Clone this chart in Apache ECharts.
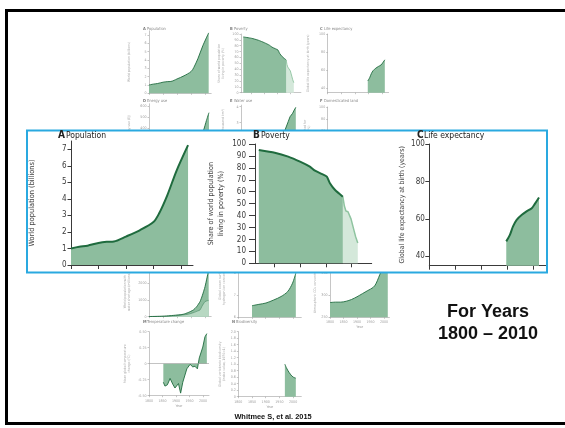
<!DOCTYPE html>
<html><head><meta charset="utf-8">
<script src="https://cdn.jsdelivr.net/npm/echarts@6/dist/echarts.min.js"></script>
<style>html,body{margin:0;padding:0;background:#fff}#c{width:565px;height:428px}</style>
</head><body><div id="c"></div>
<script>
// ---------------- data ----------------
const populationData = [[1800,1.0],[1815,1.1],[1830,1.17],[1850,1.33],[1865,1.4],[1878,1.42],[1900,1.72],[1925,2.1],[1950,2.6],[1960,3.1],[1975,4.2],[1992,5.7],[2013,7.25]];
const povertyHistData = [[1820,95],[1851,92.7],[1877,89.4],[1900,85.2],[1919,81],[1929,77.6],[1942,74.9],[1952,72.6],[1958,67.1],[1968,61.4],[1983,55.8]];
const povertyRecentData = [[1983,55.8],[1986,48],[1989,43.8],[1993,43.2],[1996,42.5],[1999,37],[2002,32],[2005,27],[2008,22],[2012,17]];
const lifeExpData = [[1948,48],[1955,51.5],[1961,56],[1968,59.5],[1978,62.2],[1987,64],[1997,65.7],[2003,68],[2011,71.4]];
const energyData = [[1800,20],[1850,25],[1900,45],[1950,100],[1970,230],[1995,384],[2005,470],[2014,540]];
const waterData = [[1900,0.6],[1950,1.4],[1967,2.54],[1979,3.06],[1986,3.37],[1996,3.59],[2002,3.79],[2008,3.96]];
const landData = [[1800,12],[1850,15],[1900,20],[1950,28],[2000,37],[2010,38]];
const waterShortageTotal = [[1800,10],[1850,30],[1875,60],[1900,100],[1922,144],[1940,250],[1958,400],[1970,600],[1982,900],[1990,1250],[2000,1800],[2013,2800]];
const waterShortageLower = [[1800,5],[1850,20],[1900,60],[1940,150],[1960,250],[1975,350],[1982,400],[1990,650],[2000,900],[2013,980]];
const oceanHData = [[1850,6.52],[1875,6.58],[1901,6.64],[1930,6.78],[1956,6.93],[1980,7.15],[1998,7.53],[2010,7.98]];
const co2Data = [[1800,283],[1820,284],[1840,284],[1860,286],[1880,290],[1900,296],[1920,303],[1940,310],[1960,317],[1970,325],[1980,339],[1990,354],[2000,369],[2010,389],[2014,398]];
const tempData = [[1853,-0.29],[1859,-0.35],[1868,-0.33],[1878,-0.23],[1888,-0.32],[1896,-0.38],[1909,-0.31],[1917,-0.46],[1925,-0.29],[1940,-0.08],[1952,-0.01],[1962,-0.05],[1970,-0.04],[1979,-0.08],[1986,0.09],[1999,0.26],[2007,0.42],[2014,0.47]];
const biodiversityData = [[1970,1.0],[1975,0.9],[1980,0.82],[1992,0.67],[2001,0.6],[2010,0.57]];

const yearTicks = [1800,1850,1900,1950,2000];
const popTicks = [0,1,2,3,4,5,6,7];
const povTicks = [0,10,20,30,40,50,60,70,80,90,100];
const lifeTicks = [40,60,80,100];
const energyTicks = [0,100,200,300,400,500,600];
const waterTicks = [0,1,2,3,4];
const landTicks = [0,20,40,60,80,100];
const shortageTicks = [0,1000,2000,3000];
const oceanTicks = [6,7,8,9];
const co2Ticks = [250,300,350,400];
const tempTicks = [-0.5,-0.25,0,0.25,0.5];
const bioTicks = [0,0.2,0.4,0.6,0.8,1.0,1.2,1.4,1.6,1.8,2.0];

// ---------------- styles ----------------
const NARROW = "'Liberation Sans Narrow','DejaVu Sans Condensed',sans-serif";
const DARK_LINE = '#1f6b3e', DARK_FILL = '#8dbd9e';
const LIGHT_LINE = '#8fc4a0', LIGHT_FILL = '#d4e8da';

const grid = [], xAxis = [], yAxis = [], series = [];

function panel(p) {
  const i = grid.length;
  const big = !!p.big;
  const z = big ? 10 : 0;
  const axisColor = big ? '#3a3a3a' : '#a0a0a0';
  const labelColor = big ? '#3a3a3a' : '#a0a0a0';
  const fs = big ? 8 : 3.6;
  grid.push({left: p.left, top: p.top, width: p.width, height: p.height, containLabel: false, outerBoundsMode: 'none'});
  const xt = p.xTicks || yearTicks;
  xAxis.push({
    gridIndex: i, type: 'value', min: p.xMin, max: p.xMax, z: z,
    axisLine: {show: true, onZero: false, lineStyle: {color: axisColor, width: big ? 1 : 0.6}},
    axisTick: {show: true, customValues: xt, length: big ? 4 : 1.5, lineStyle: {color: axisColor, width: big ? 1 : 0.6}},
    axisLabel: {show: !!p.xLabels, customValues: xt, fontSize: fs, color: labelColor, margin: 3, fontFamily: NARROW,
      formatter: function (v) { return String(v); }},
    splitLine: {show: false},
    name: p.xName || '', nameLocation: 'middle', nameGap: 8,
    nameTextStyle: {fontSize: fs, color: labelColor, fontFamily: NARROW}
  });
  yAxis.push({
    gridIndex: i, type: 'value', min: p.yMin, max: p.yMax, z: z,
    axisLine: {show: true, onZero: false, lineStyle: {color: axisColor, width: big ? 1 : 0.6}},
    axisTick: {show: true, customValues: p.yTicks, length: p.tickLen || (big ? 4 : 1.5), lineStyle: {color: axisColor, width: big ? 1 : 0.6}},
    axisLabel: {show: true, customValues: p.yTicks, fontSize: fs, color: labelColor, margin: p.labelMargin || (big ? 5 : 2.5), fontFamily: NARROW,
      formatter: p.yFmt || function (v) { return String(v); }},
    splitLine: {show: false},
    name: p.yName || '', nameLocation: 'middle', nameGap: p.yNameGap, nameRotate: 90,
    nameTextStyle: {fontSize: p.nameSize || (big ? 8 : 3.4), color: big ? '#444' : '#a8a8a8', fontFamily: NARROW, lineHeight: big ? 10 : 4.2}
  });
  p.series.forEach(function (s) {
    const light = s.light;
    series.push({
      type: 'line', xAxisIndex: i, yAxisIndex: i, data: s.data,
      showSymbol: false, symbol: 'none', smooth: s.smooth || 0, animation: false, silent: true,
      z: big ? 11 : 2,
      lineStyle: {color: light ? LIGHT_LINE : DARK_LINE, width: s.lw || (big ? 2 : 0.9)},
      areaStyle: {color: s.fill || (light ? LIGHT_FILL : DARK_FILL), opacity: 1, origin: s.origin || 'start'},
      markLine: s.zeroLine ? {symbol: 'none', silent: true, label: {show: false},
        lineStyle: {color: '#9a9a9a', width: 0.6, type: 'solid'}, data: [{yAxis: 0}], animation: false} : undefined
    });
  });
}

// ---------------- background (full figure, mostly covered) ----------------
panel({left: 149, top: 30.8, width: 62.2, height: 62.5, xMin: 1800, xMax: 2022, yMin: 0, yMax: 7.5, yTicks: popTicks,
  yName: 'World population (billions)', yNameGap: 18, series: [{data: populationData, smooth: 0.3}]});
panel({left: 241, top: 34, width: 59.9, height: 58.7, xMin: 1811.3, xMax: 2039, yMin: 0, yMax: 100, yTicks: povTicks, xTicks: [1850,1900,1950,2000],
  yName: 'Share of world population\nliving in poverty (%)', yNameGap: 16,
  series: [{data: povertyRecentData, light: true}, {data: povertyHistData, smooth: 0.2}]});
panel({left: 327.7, top: 34, width: 60.9, height: 58.7, xMin: 1800, xMax: 2025, yMin: 35, yMax: 100, yTicks: lifeTicks,
  yName: 'Global life expectancy at birth (years)', yNameGap: 17, series: [{data: lifeExpData, smooth: 0.3}]});
panel({left: 149, top: 103.8, width: 62.2, height: 68.9, xMin: 1800, xMax: 2022, yMin: 0, yMax: 620, yTicks: energyTicks,
  yName: 'Global primary energy use (EJ)', yNameGap: 18, series: [{data: energyData, smooth: 0.2}]});
panel({left: 241, top: 105.1, width: 60.6, height: 65.6, xMin: 1800, xMax: 2030, yMin: 0, yMax: 4.1, yTicks: waterTicks,
  yName: 'Global freshwater use (thousand km³)', yNameGap: 16, series: [{data: waterData}]});
panel({left: 327.7, top: 107, width: 60.9, height: 60, xMin: 1800, xMax: 2025, yMin: 0, yMax: 100, yTicks: landTicks,
  yName: 'Land domesticated for\nagriculture (%)', yNameGap: 16, series: [{data: landData}]});
panel({left: 149, top: 266.6, width: 62.2, height: 50.1, xMin: 1800, xMax: 2022, yMin: 0, yMax: 3000, yTicks: shortageTicks,
  yName: 'World population with\nwater shortage (millions)', yNameGap: 18,
  series: [{data: waterShortageTotal, smooth: 0.2}, {data: waterShortageLower, smooth: 0.2, fill: '#b7d8c2', lw: 0.4}]});
panel({left: 238.3, top: 250.4, width: 63, height: 66.9, xMin: 1800, xMax: 2030, yMin: 6, yMax: 9, yTicks: oceanTicks,
  yName: 'Global ocean surface\nhydrogen ion concentration', yNameGap: 12, series: [{data: oceanHData, smooth: 0.3}]});
panel({left: 330, top: 250.4, width: 59.4, height: 66.9, xMin: 1800, xMax: 2020, yMin: 250, yMax: 400, yTicks: co2Ticks,
  xLabels: true, xName: 'Year',
  yName: 'Atmospheric CO₂ concentration (ppm)', yNameGap: 13, series: [{data: co2Data, smooth: 0.3}]});
panel({left: 149, top: 331.7, width: 60, height: 64, xMin: 1800, xMax: 2022, yMin: -0.5, yMax: 0.5, yTicks: tempTicks,
  yFmt: function (v) { return v === 0 ? '0' : (v < 0 ? '–' : '') + Math.abs(v).toFixed(2); },
  xLabels: true, xName: 'Year',
  yName: 'Mean global temperature\nchange (°C)', yNameGap: 18,
  series: [{data: tempData, origin: 'auto', zeroLine: true}]});
panel({left: 238.3, top: 331.7, width: 63, height: 65, xMin: 1800, xMax: 2030, yMin: 0, yMax: 2, yTicks: bioTicks,
  yFmt: function (v) { return v === 0 ? '0' : v.toFixed(1); },
  xLabels: true, xName: 'Year',
  yName: 'Global vertebrate biodiversity\n(index value, 1970=1)', yNameGap: 12,
  series: [{data: biodiversityData, smooth: 0.3}]});

// ---------------- highlighted panels A, B, C ----------------
panel({big: true, left: 71, top: 141, width: 122, height: 124, xMin: 1800, xMax: 2022, yMin: 0, yMax: 7.5, yTicks: popTicks,
  tickLen: 3.5, labelMargin: 4.5, nameSize: 7.4,
  yName: 'World population (billions)', yNameGap: 33.5, series: [{data: populationData, smooth: 0.3}]});
panel({big: true, left: 255, top: 144, width: 116.7, height: 119.3, xMin: 1812.6, xMax: 2039, yMin: 0, yMax: 100, yTicks: povTicks,
  xTicks: [1850,1900,1950,2000], tickLen: 6, labelMargin: 9, nameSize: 7.2,
  yName: 'Share of world population\nliving in poverty (%)', yNameGap: 29,
  series: [{data: povertyRecentData, light: true, lw: 1.5}, {data: povertyHistData, smooth: 0.2}]});
panel({big: true, left: 429.3, top: 144, width: 117, height: 121.7, xMin: 1800, xMax: 2025, yMin: 35, yMax: 100, yTicks: lifeTicks,
  tickLen: 4, labelMargin: 4.5, nameSize: 6.9,
  yName: 'Global life expectancy at birth (years)', yNameGap: 20, series: [{data: lifeExpData, smooth: 0.3}]});

// ---------------- free texts and frames ----------------
function txt(x, y, s, font, fill, z, align) {
  return {type: 'text', x: x, y: y, z: z, silent: true,
    style: {text: s, font: font, fill: fill, align: align || 'left', verticalAlign: 'middle',
      textAlign: align || 'left', textVerticalAlign: 'middle'}};
}
const TF = "'Liberation Sans Narrow','DejaVu Sans Condensed',sans-serif";
const smallTitles = [
  [143, 29, 'A', 'Population'], [230, 29, 'B', 'Poverty'], [320, 29, 'C', 'Life expectancy'],
  [143, 101, 'D', 'Energy use'], [230, 101, 'E', 'Water use'], [320, 101, 'F', 'Domesticated land'],
  [143, 322, 'M', 'Temperature change'], [232, 322, 'N', 'Biodiversity']
];
const graphicEls = [];
smallTitles.forEach(function (t) {
  graphicEls.push(txt(t[0], t[1], t[2], 'bold 4px ' + TF, '#777', 3));
  graphicEls.push(txt(t[0] + 4, t[1], t[3], '4px ' + TF, '#888', 3));
});
graphicEls.push({type: 'rect', z: 5, silent: true, shape: {x: 27, y: 130.5, width: 520, height: 142}, style: {fill: '#ffffff', stroke: null}});
graphicEls.push({type: 'rect', z: 20, silent: true, shape: {x: 27, y: 130.5, width: 520, height: 142}, style: {fill: 'none', stroke: '#2aa9e0', lineWidth: 2}});
graphicEls.push({type: 'rect', z: 20, silent: true, shape: {x: 6.5, y: 10.5, width: 580, height: 413}, style: {fill: 'none', stroke: '#000', lineWidth: 3}});
const mainTitles = [[58, 'A', 66, 'Population'], [253, 'B', 261, 'Poverty'], [417, 'C', 424, 'Life expectancy']];
mainTitles.forEach(function (t) {
  graphicEls.push(txt(t[0], 135.5, t[1], 'bold 10px ' + TF, '#222', 20));
  graphicEls.push(txt(t[2], 135.5, t[3], '8.5px ' + TF, '#222', 20));
});
graphicEls.push(txt(488, 312, 'For Years', "bold 18px 'Liberation Sans',Arial,sans-serif", '#111', 20, 'center'));
graphicEls.push(txt(488, 334, '1800 – 2010', "bold 18px 'Liberation Sans',Arial,sans-serif", '#111', 20, 'center'));
graphicEls.push(txt(273, 416.5, 'Whitmee S, et al. 2015', "bold 7.4px 'Liberation Sans',Arial,sans-serif", '#111', 20, 'center'));

const chart = echarts.init(document.getElementById('c'), null, {renderer: 'canvas'});
chart.setOption({
  animation: false,
  backgroundColor: '#ffffff',
  grid: grid, xAxis: xAxis, yAxis: yAxis, series: series,
  graphic: {elements: graphicEls}
});
</script>
</body></html>
